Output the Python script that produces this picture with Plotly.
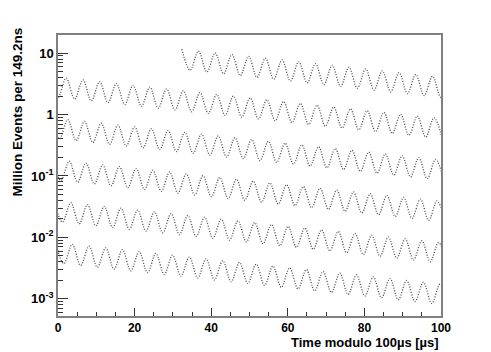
import plotly.graph_objects as go

# times (in the 100 us window) of the wiggle maxima / minima, and their heights
# strip 1 : 32 - 100 us, strip 2 : 100 - 200 us, ... strip 6 : 500 - 600 us
t_strip1 = [32.31, 34.49, 36.68, 38.86, 41.04, 43.22, 45.41, 47.59, 49.77, 51.95,
            54.14, 56.32, 58.50, 60.68, 62.87, 65.05, 67.23, 69.41, 71.60, 73.78,
            75.96, 78.14, 80.33, 82.51, 84.69, 86.87, 89.06, 91.24, 93.42, 95.60,
            97.79, 99.97, 102.15]
n_strip1 = [11.6, 5.28, 10.8, 4.93, 10.1, 4.61, 9.47, 4.31, 8.85, 4.03,
            8.27, 3.76, 7.73, 3.52, 7.22, 3.29, 6.75, 3.07, 6.31, 2.87,
            5.89, 2.68, 5.51, 2.51, 5.14, 2.34, 4.81, 2.19, 4.49, 2.04,
            4.20, 1.91, 3.92]

t_strip2 = [-2.21, -0.03, 2.15, 4.33, 6.52, 8.70, 10.88, 13.06, 15.25, 17.43,
            19.61, 21.79, 23.98, 26.16, 28.34, 30.52, 32.71, 34.89, 37.07, 39.25,
            41.44, 43.62, 45.80, 47.98, 50.17, 52.35, 54.53, 56.71, 58.90, 61.08,
            63.26, 65.44, 67.63, 69.81, 71.99, 74.17, 76.36, 78.54, 80.72, 82.90,
            85.09, 87.27, 89.45, 91.63, 93.82, 96.00, 98.18, 100.36]
n_strip2 = [4.20, 1.91, 3.92, 1.785, 3.67, 1.668, 3.43, 1.559, 3.20, 1.457,
            2.99, 1.361, 2.80, 1.272, 2.61, 1.189, 2.44, 1.111, 2.28, 1.038,
            2.13, 0.970, 1.992, 0.906, 1.862, 0.847, 1.740, 0.791, 1.626, 0.740,
            1.519, 0.691, 1.419, 0.646, 1.326, 0.604, 1.239, 0.564, 1.158, 0.527,
            1.082, 0.492, 1.011, 0.460, 0.945, 0.430, 0.883, 0.402]

t_strip3 = [-1.82, 0.36, 2.55, 4.73, 6.91, 9.09, 11.28, 13.46, 15.64, 17.82,
            20.01, 22.19, 24.37, 26.55, 28.74, 30.92, 33.10, 35.28, 37.47, 39.65,
            41.83, 44.01, 46.20, 48.38, 50.56, 52.74, 54.93, 57.11, 59.29, 61.47,
            63.66, 65.84, 68.02, 70.20, 72.39, 74.57, 76.75, 78.93, 81.12, 83.30,
            85.48, 87.66, 89.85, 92.03, 94.21, 96.39, 98.58, 100.76]
n_strip3 = [0.884, 0.402, 0.825, 0.376, 0.772, 0.351, 0.722, 0.328, 0.673, 0.307,
            0.629, 0.286, 0.589, 0.268, 0.549, 0.250, 0.513, 0.234, 0.480, 0.218,
            0.448, 0.204, 0.419, 0.191, 0.392, 0.178, 0.366, 0.166, 0.342, 0.156,
            0.320, 0.145, 0.299, 0.136, 0.279, 0.127, 0.261, 0.119, 0.244, 0.111,
            0.228, 0.1035, 0.213, 0.0968, 0.199, 0.0905, 0.186, 0.0846]

t_strip4 = [-1.43, 0.76, 2.94, 5.12, 7.31, 9.49, 11.67, 13.85, 16.04, 18.22,
            20.40, 22.58, 24.77, 26.95, 29.13, 31.31, 33.50, 35.68, 37.86, 40.04,
            42.23, 44.41, 46.59, 48.77, 50.96, 53.14, 55.32, 57.50, 59.69, 61.87,
            64.05, 66.23, 68.42, 70.60, 72.78, 74.96, 77.15, 79.33, 81.51, 83.69,
            85.88, 88.06, 90.24, 92.42, 94.61, 96.79, 98.97, 101.15]
n_strip4 = [0.186, 0.0846, 0.174, 0.0791, 0.162, 0.0739, 0.152, 0.0690, 0.142, 0.0646,
            0.132, 0.0602, 0.124, 0.0564, 0.116, 0.0526, 0.108, 0.0492, 0.101, 0.0459,
            0.0943, 0.0429, 0.0882, 0.0402, 0.0825, 0.0375, 0.0770, 0.0349, 0.0720, 0.0328,
            0.0673, 0.0305, 0.0629, 0.0286, 0.0587, 0.0267, 0.0549, 0.0250, 0.0513, 0.0234,
            0.0480, 0.0218, 0.0448, 0.0204, 0.0419, 0.0190, 0.0391, 0.0178]

t_strip5 = [-1.03, 1.15, 3.34, 5.52, 7.70, 9.88, 12.07, 14.25, 16.43, 18.61,
            20.80, 22.98, 25.16, 27.34, 29.53, 31.71, 33.89, 36.07, 38.26, 40.44,
            42.62, 44.80, 46.99, 49.17, 51.35, 53.53, 55.72, 57.90, 60.08, 62.26,
            64.45, 66.63, 68.81, 70.99, 73.18, 75.36, 77.54, 79.72, 81.91, 84.09,
            86.27, 88.45, 90.64, 92.82, 95.00, 97.18, 99.37, 101.55]
n_strip5 = [0.0391, 0.0178, 0.0366, 0.0166, 0.0341, 0.0155, 0.0320, 0.0145, 0.0299, 0.0136,
            0.0278, 0.0127, 0.0261, 0.0119, 0.0244, 0.0111, 0.0227, 0.0104, 0.0213, 0.00966,
            0.0198, 0.00903, 0.0186, 0.00846, 0.0174, 0.00789, 0.0162, 0.00734, 0.0151, 0.00690,
            0.0142, 0.00642, 0.0132, 0.00602, 0.0124, 0.00562, 0.0116, 0.00526, 0.0108, 0.00492,
            0.0101, 0.00459, 0.00943, 0.00429, 0.00882, 0.00400, 0.00823, 0.00375]

t_strip6 = [-0.64, 1.55, 3.73, 5.91, 8.10, 10.28, 12.46, 14.64, 16.83, 19.01,
            21.19, 23.37, 25.56, 27.74, 29.92, 32.10, 34.29, 36.47, 38.65, 40.83,
            43.02, 45.20, 47.38, 49.56, 51.75, 53.93, 56.11, 58.29, 60.48, 62.66,
            64.84, 67.02, 69.21, 71.39, 73.57, 75.75, 77.94, 80.12, 82.30, 84.48,
            86.67, 88.85, 91.03, 93.21, 95.40, 97.58, 99.76, 101.94]
n_strip6 = [0.00823, 0.00375, 0.00770, 0.00349, 0.00717, 0.00326, 0.00673, 0.00305, 0.00629, 0.00286,
            0.00585, 0.00267, 0.00549, 0.00250, 0.00513, 0.00234, 0.00478, 0.00219, 0.00448, 0.00203,
            0.00417, 0.00190, 0.00391, 0.00178, 0.00366, 0.00166, 0.00341, 0.00154, 0.00318, 0.00145,
            0.00299, 0.00135, 0.00278, 0.00127, 0.00261, 0.00118, 0.00244, 0.00111, 0.00227, 0.00104,
            0.00213, 0.000966, 0.00199, 0.000903, 0.00186, 0.000842, 0.00173, 0.000789]

y_tickvals = [0.001, 0.01, 0.1, 1, 10]
y_ticktext = ["10<sup>-3</sup>", "10<sup>-2</sup>", "10<sup>-1</sup>", "1", "10"]
y_minorvals = [0.0006, 0.0007, 0.0008, 0.0009,
               0.002, 0.003, 0.004, 0.005, 0.006, 0.007, 0.008, 0.009,
               0.02, 0.03, 0.04, 0.05, 0.06, 0.07, 0.08, 0.09,
               0.2, 0.3, 0.4, 0.5, 0.6, 0.7, 0.8, 0.9,
               2, 3, 4, 5, 6, 7, 8, 9, 20]

strips = [
    (t_strip1, n_strip1),
    (t_strip2, n_strip2),
    (t_strip3, n_strip3),
    (t_strip4, n_strip4),
    (t_strip5, n_strip5),
    (t_strip6, n_strip6),
]

fig = go.Figure()

for t, n in strips:
    fig.add_trace(
        go.Scatter(
            x = t,
            y = n,
            mode = "lines",
            line = dict(color = "#4a4a4a", width = 1.3, dash = "1px,1.6px",
                        shape = "spline", smoothing = 1.0),
            showlegend = False,
            hoverinfo = "none",
        )
    )

fnt = "Liberation Sans, Arial, sans-serif"

# the page puts the figure 8px in from the top-left corner, so the
# figure is drawn 8px smaller to land the frame where the reference has it
fig.update_layout(
    width = 483,
    height = 344,
    paper_bgcolor = "white",
    plot_bgcolor = "white",
    margin = dict(l = 50, r = 50, t = 27, b = 36),
    xaxis = dict(
        range = [0, 100],
        tickvals = [0, 20, 40, 60, 80, 100],
        ticks = "inside",
        ticklen = 8,
        tickcolor = "#333333",
        minor = dict(ticks = "inside", ticklen = 4, dtick = 5, tickcolor = "#333333"),
        showline = True,
        mirror = True,
        linecolor = "#808080",
        linewidth = 1.5,
        showgrid = False,
        zeroline = False,
        automargin = False,
        tickfont = dict(family = fnt, size = 12, color = "black", weight = "bold"),
    ),
    yaxis = dict(
        type = "log",
        range = [-3.28, 1.295],
        tickvals = y_tickvals,
        ticktext = y_ticktext,
        ticks = "inside",
        ticklen = 10,
        tickcolor = "#333333",
        minor = dict(ticks = "inside", ticklen = 5, tickvals = y_minorvals,
                     tickcolor = "#333333"),
        showline = True,
        mirror = True,
        linecolor = "#808080",
        linewidth = 1.5,
        showgrid = False,
        zeroline = False,
        automargin = False,
        tickfont = dict(family = fnt, size = 13, color = "black", weight = "bold"),
    ),
    annotations = [
        dict(
            text = "Million Events per 149.2ns",
            textangle = -90,
            xref = "paper", yref = "paper",
            x = -0.107, y = 1.032,
            xanchor = "center", yanchor = "top",
            showarrow = False,
            font = dict(family = fnt, size = 13.5, color = "black", weight = "bold"),
        ),
        dict(
            text = "Time modulo 100\u00b5s [\u00b5s]",
            xref = "paper", yref = "paper",
            x = 1.0, y = -0.061,
            xanchor = "right", yanchor = "top",
            showarrow = False,
            font = dict(family = fnt, size = 13, color = "black", weight = "bold"),
        ),
    ],
)

fig.write_html("out.html")
